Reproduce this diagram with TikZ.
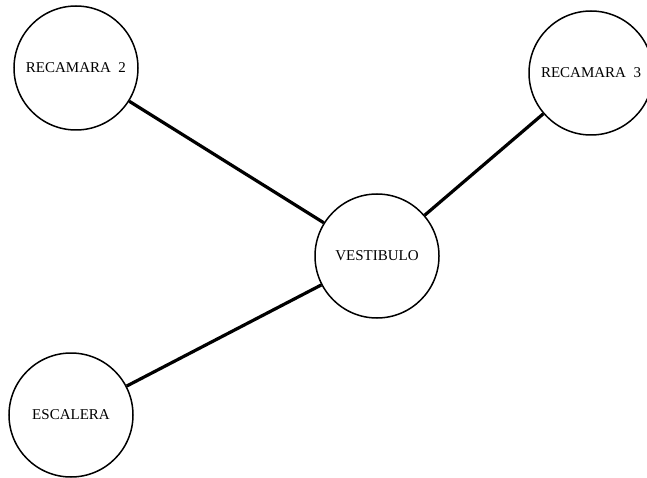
\documentclass[tikz,border=0pt]{standalone}
\usepackage{fontspec}
\setmainfont{Liberation Serif}
\usepackage{tikz}

\begin{document}
\begin{tikzpicture}[x=1pt, y=-1pt]
\useasboundingbox (0,0) rectangle (647,478);
\tikzset{room/.style = {draw, circle, line width = 1.5pt, minimum size = 124pt, inner sep = 0pt, font = \fontsize{15}{17}\selectfont}}
\node[room] (r2) at (76,68) {RECAMARA\ \ 2};
\node[room] (r3) at (591,73) {RECAMARA\ \ 3};
\node[room] (vest) at (377,256) {VESTIBULO};
\node[room] (esc) at (71,415) {ESCALERA};
\begin{scope}[line width = 3.2pt]
\draw (r2) -- (vest);
\draw (vest) -- (r3);
\draw (vest) -- (esc);
\end{scope}
\end{tikzpicture}
\end{document}
